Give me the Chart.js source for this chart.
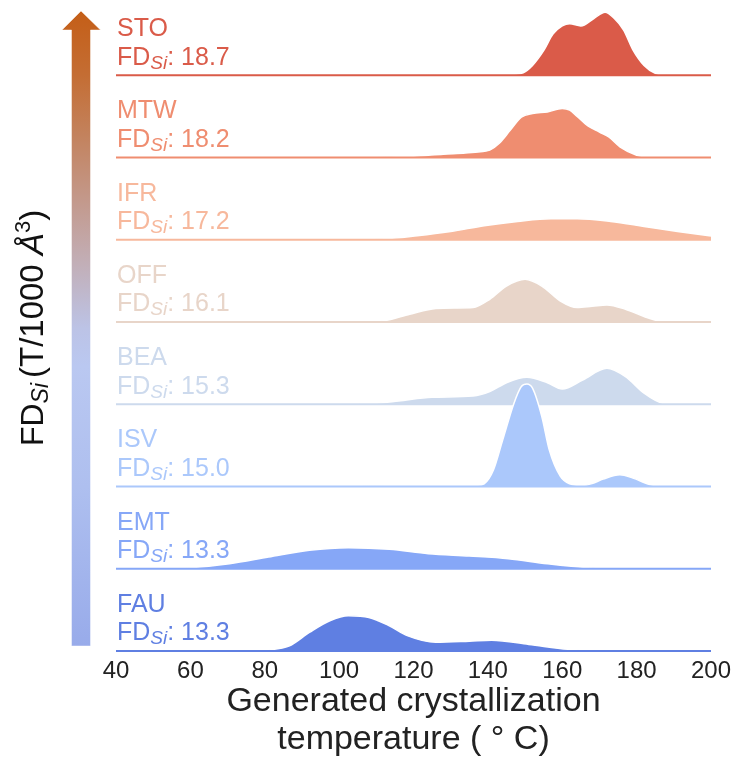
<!DOCTYPE html>
<html>
<head>
<meta charset="utf-8">
<script src="https://cdn.jsdelivr.net/npm/chart.js@4/dist/chart.umd.min.js"></script>
<style>
html,body{margin:0;padding:0;background:#ffffff;}
#wrap{width:735px;height:759px;position:relative;}
</style>
</head>
<body>
<div id="wrap"><canvas id="c" width="735" height="759"></canvas></div>
<script>
// ---- data (bottom row first) ----
const frameworks = ['FAU', 'EMT', 'ISV', 'BEA', 'OFF', 'IFR', 'MTW', 'STO'];
const fdValues = ['13.3', '13.3', '15.0', '15.3', '16.1', '17.2', '18.2', '18.7'];
const fillColors = ['#5F7FE2', '#86A7F7', '#ABC8FB', '#CDDAED', '#E8D5C9', '#F7B89C', '#EF8D70', '#DA5B49'];
const xTicks = [40, 60, 80, 100, 120, 140, 160, 180, 200];

// [temperature (°C), density] pairs
const FAU = [[78,0.003],[81,0.012],[86.5,0.06],[92,0.225],[97.5,0.367],[102.5,0.428],[108,0.408],[113.5,0.306],[118.5,0.183],[126,0.105],[135,0.118],[141,0.13],[151,0.08],[161.5,0.02],[170,0.002]];
const EMT = [[50,0.003],[60,0.012],[70.5,0.06],[81,0.142],[92,0.225],[102.5,0.256],[113.5,0.237],[124,0.183],[135,0.155],[145.5,0.122],[156,0.06],[167,0.012],[175,0.002]];
const ISV = [[100,0.004],[120,0.012],[130,0.012],[137,0.015],[139,0.033],[141.5,0.2],[144,0.567],[147,1.01],[149,1.215],[150.5,1.245],[152,1.195],[154.5,0.85],[156.5,0.446],[159.5,0.122],[162,0.033],[165.5,0.012],[168,0.035],[171,0.09],[175.5,0.142],[179,0.102],[183.5,0.024],[187,0.003]];
const BEA = [[105,0.003],[110,0.012],[116,0.04],[125,0.085],[136,0.10],[140.5,0.153],[145,0.262],[150.5,0.328],[156,0.262],[160,0.186],[165.5,0.295],[172,0.437],[177,0.335],[182,0.134],[187,0.012],[190,0.002]];
const OFF = [[105,0.004],[112,0.015],[119,0.094],[126,0.163],[131.5,0.17],[136,0.175],[140.5,0.276],[145,0.437],[150,0.519],[154.5,0.437],[159.5,0.255],[164,0.175],[168,0.19],[172,0.207],[177,0.155],[182,0.066],[186,0.012],[190,0.003]];
const IFR = [[90,0.003],[100,0.006],[112,0.012],[121,0.049],[130,0.10],[139,0.17],[148,0.222],[157,0.255],[164,0.255],[173,0.222],[182,0.162],[191,0.10],[200,0.045]];
const MTW = [[110,0.005],[120,0.015],[128,0.04],[134,0.055],[138,0.07],[140.5,0.089],[143,0.17],[146,0.33],[149,0.49],[152,0.535],[156,0.554],[160,0.595],[162,0.575],[164,0.50],[167,0.38],[170,0.31],[172.5,0.25],[175.5,0.13],[180,0.028],[183,0.006]];
const STO = [[120,0.004],[140,0.008],[147,0.012],[149.5,0.03],[152,0.12],[155,0.30],[157.5,0.50],[160,0.60],[162,0.627],[165,0.60],[168.5,0.69],[171.5,0.765],[174,0.69],[176.5,0.55],[179,0.31],[182,0.12],[185,0.025],[188,0.005]];
const densities = [FAU, EMT, ISV, BEA, OFF, IFR, MTW, STO];

const FONT = '"Liberation Sans", Arial, Helvetica, sans-serif';

const datasets = [];
densities.forEach((pts, i) => {
  datasets.push({
    label: frameworks[i],
    data: pts.map(([t, d]) => ({x: t, y: i + d})),
    fill: {value: i},
    backgroundColor: fillColors[i],
    borderColor: '#ffffff',
    borderWidth: 1.5,
    pointRadius: 0,
    cubicInterpolationMode: 'monotone',
    order: 2 * i + 1
  });
  datasets.push({
    label: frameworks[i] + ' baseline',
    data: [{x: xTicks[0], y: i}, {x: xTicks[xTicks.length - 1], y: i}],
    fill: false,
    borderColor: fillColors[i],
    borderWidth: 2,
    pointRadius: 0,
    order: 2 * i
  });
});

function drawParts(ctx, parts, x, y) {
  parts.forEach(p => {
    ctx.font = p.f;
    ctx.fillText(p.t, x, y + (p.dy || 0));
    x += ctx.measureText(p.t).width + (p.gap || 0);
  });
}
function partsWidth(ctx, parts) {
  let w = 0;
  parts.forEach(p => { ctx.font = p.f; w += ctx.measureText(p.t).width + (p.gap || 0); });
  return w;
}

const rowLabels = {
  id: 'rowLabels',
  afterDatasetsDraw(chart) {
    const ctx = chart.ctx, ys = chart.scales.y, xs = chart.scales.x;
    const x0 = xs.left + 1;
    frameworks.forEach((name, i) => {
      const yb = ys.getPixelForValue(i);
      ctx.save();
      ctx.fillStyle = fillColors[i];
      ctx.textAlign = 'left';
      ctx.textBaseline = 'alphabetic';
      ctx.font = '25px ' + FONT;
      ctx.fillText(name, x0, yb - 39);
      drawParts(ctx, [
        {t: 'FD', f: '25px ' + FONT},
        {t: 'Si', f: 'italic 19px ' + FONT, dy: 4},
        {t: ': ' + fdValues[i], f: '25px ' + FONT}
      ], x0, yb - 10.7);
      ctx.restore();
    });
  }
};

const arrowAndTitle = {
  id: 'arrowAndTitle',
  afterDraw(chart) {
    const ctx = chart.ctx;
    ctx.save();
    const top = 11, headBase = 30, bottom = 646;
    const g = ctx.createLinearGradient(0, top, 0, bottom);
    g.addColorStop(0.0, '#C45E17');
    g.addColorStop(0.1, '#C46D33');
    g.addColorStop(0.2, '#C3835F');
    g.addColorStop(0.3, '#C3998C');
    g.addColorStop(0.4, '#C2AFB8');
    g.addColorStop(0.5, '#BCC3E6');
    g.addColorStop(0.56, '#BAC8F1');
    g.addColorStop(0.75, '#AEBFEF');
    g.addColorStop(1.0, '#98ABEA');
    ctx.beginPath();
    ctx.moveTo(81, top);
    ctx.lineTo(100.5, headBase);
    ctx.lineTo(90.5, headBase);
    ctx.lineTo(90.5, bottom);
    ctx.lineTo(71.5, bottom);
    ctx.lineTo(71.5, headBase);
    ctx.lineTo(62, headBase);
    ctx.closePath();
    ctx.fillStyle = g;
    ctx.fill();
    ctx.lineWidth = 1;
    ctx.strokeStyle = 'rgba(255,255,255,0.45)';
    ctx.stroke();

    const parts = [
      {t: 'FD', f: '32px ' + FONT},
      {t: 'Si', f: 'italic 23px ' + FONT, dy: 5, gap: 5},
      {t: '(T/1000 ', f: '33px ' + FONT},
      {t: 'Å', f: 'italic 33px ' + FONT},
      {t: '3', f: '22px ' + FONT, dy: -13},
      {t: ')', f: '33px ' + FONT}
    ];
    const w = partsWidth(ctx, parts);
    ctx.translate(43, 328);
    ctx.rotate(-Math.PI / 2);
    ctx.fillStyle = '#111111';
    ctx.textAlign = 'left';
    ctx.textBaseline = 'alphabetic';
    drawParts(ctx, parts, -w / 2, 0);
    ctx.restore();
  }
};

new Chart(document.getElementById('c'), {
  type: 'line',
  data: {datasets},
  options: {
    responsive: false,
    animation: false,
    devicePixelRatio: 1,
    layout: {padding: {left: 116, right: 24, top: 0, bottom: 0}},
    plugins: {legend: {display: false}, tooltip: {enabled: false}},
    scales: {
      x: {
        type: 'linear',
        min: xTicks[0],
        max: xTicks[xTicks.length - 1],
        afterBuildTicks: s => { s.ticks = xTicks.map(v => ({value: v})); },
        afterFit: s => { s.height = 104; },
        grid: {display: false, drawTicks: false},
        border: {display: false},
        ticks: {padding: 0, color: '#222222', maxRotation: 0, autoSkip: false, font: {family: FONT, size: 24, lineHeight: 1.4}},
        title: {
          display: true,
          text: ['Generated crystallization', 'temperature ( ° C)'],
          color: '#222222',
          font: {family: FONT, size: 34, lineHeight: 1.12},
          padding: {top: 0, bottom: 0}
        }
      },
      y: {display: false, min: -0.049, max: 7.915}
    }
  },
  plugins: [rowLabels, arrowAndTitle]
});
</script>
</body>
</html>
